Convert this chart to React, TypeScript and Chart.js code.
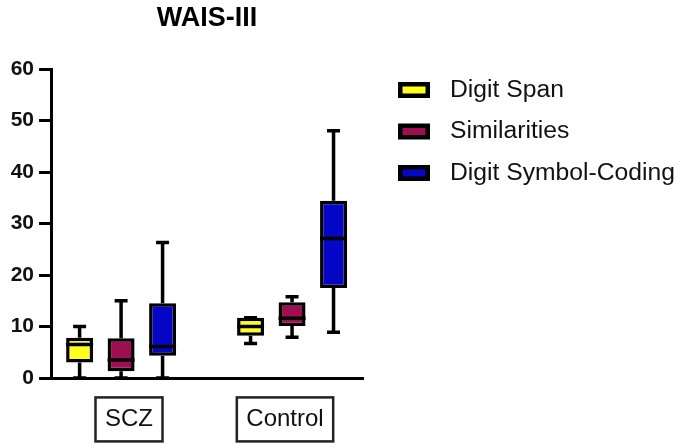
import React, { useEffect, useRef } from "react";
import { Chart, registerables } from "chart.js";

Chart.register(...registerables);

// ---- Data ----
const categories = ["SCZ", "Control"];
const seriesNames = ["Digit Span", "Similarities", "Digit Symbol-Coding"];
const seriesColors = ["#ffff1e", "#9e0e50", "#0606c6"];

const digitSpanMin = [0, 6.7];
const digitSpanQ1 = [3.0, 8.2];
const digitSpanMedian = [6.5, 10.0];
const digitSpanQ3 = [7.8, 11.7];
const digitSpanMax = [10.0, 11.7];

const similaritiesMin = [0, 7.9];
const similaritiesQ1 = [1.3, 10.1];
const similaritiesMedian = [3.5, 11.6];
const similaritiesQ3 = [7.7, 14.7];
const similaritiesMax = [15.0, 15.8];

const codingMin = [0, 8.9];
const codingQ1 = [4.3, 17.5];
const codingMedian = [6.1, 27.1];
const codingQ3 = [14.5, 34.4];
const codingMax = [26.3, 48.0];

const yTicks = [0, 10, 20, 30, 40, 50, 60];

const series = [
  { min: digitSpanMin, q1: digitSpanQ1, med: digitSpanMedian, q3: digitSpanQ3, max: digitSpanMax },
  { min: similaritiesMin, q1: similaritiesQ1, med: similaritiesMedian, q3: similaritiesQ3, max: similaritiesMax },
  { min: codingMin, q1: codingQ1, med: codingMedian, q3: codingQ3, max: codingMax },
];

const FONT = "'Liberation Sans', Arial, sans-serif";
const X_LABEL_SIZE = 24;
const X_LABEL_PAD = 27;

const whiskerPlugin = {
  id: "whiskers",
  afterDatasetsDraw(chart: any) {
    const ctx = chart.ctx;
    const y = chart.scales.y;
    ctx.save();
    ctx.strokeStyle = "#000";
    ctx.lineWidth = 3.5;
    chart.data.datasets.forEach((_ds: any, i: number) => {
      const meta = chart.getDatasetMeta(i);
      const s = series[i];
      meta.data.forEach((el: any, j: number) => {
        const x = el.x;
        const w = el.width;
        const cap = 13;
        const yMin = y.getPixelForValue(s.min[j]);
        const yQ1 = y.getPixelForValue(s.q1[j]);
        const yMed = y.getPixelForValue(s.med[j]);
        const yQ3 = y.getPixelForValue(s.q3[j]);
        const yMax = y.getPixelForValue(s.max[j]);
        ctx.beginPath();
        ctx.moveTo(x, yQ3);
        ctx.lineTo(x, yMax);
        ctx.moveTo(x - cap / 2, yMax);
        ctx.lineTo(x + cap / 2, yMax);
        ctx.moveTo(x, yQ1);
        ctx.lineTo(x, yMin);
        ctx.moveTo(x - cap / 2, yMin);
        ctx.lineTo(x + cap / 2, yMin);
        ctx.moveTo(x - w / 2, yMed);
        ctx.lineTo(x + w / 2, yMed);
        ctx.stroke();
      });
    });
    ctx.restore();
  },
};

const labelBoxPlugin = {
  id: "labelBoxes",
  afterDraw(chart: any) {
    const ctx = chart.ctx;
    const sc = chart.scales.x;
    const cy = sc.top + X_LABEL_PAD + (X_LABEL_SIZE * 1.2) / 2;
    ctx.save();
    ctx.font = `${X_LABEL_SIZE}px ${FONT}`;
    ctx.strokeStyle = "#222";
    ctx.lineWidth = 2.5;
    sc.ticks.forEach((t: any, i: number) => {
      const cx = sc.getPixelForTick(i);
      const label = String(sc.getLabelForValue(t.value));
      const w = ctx.measureText(label).width;
      const padX = 9.5;
      ctx.strokeRect(cx - w / 2 - padX, cy - 22, w + 2 * padX, 44);
    });
    ctx.restore();
  },
};

const legendPlugin = {
  id: "boxLegend",
  afterDraw(chart: any) {
    const ctx = chart.ctx;
    const x0 = chart.chartArea.right + 35;
    const y0 = 90;
    const gap = 41.5;
    const bw = 32;
    const bh = 16;
    const b = 4.5;
    ctx.save();
    chart.data.datasets.forEach((ds: any, i: number) => {
      const cy = y0 + i * gap;
      ctx.fillStyle = "#000";
      ctx.fillRect(x0, cy - bh / 2, bw, bh);
      ctx.fillStyle = ds.backgroundColor;
      ctx.fillRect(x0 + b, cy - bh / 2 + b, bw - 2 * b, bh - 2 * b);
      ctx.font = `24.7px ${FONT}`;
      ctx.textBaseline = "middle";
      ctx.textAlign = "left";
      ctx.fillStyle = "#111";
      ctx.fillText(ds.label, x0 + bw + 20, cy);
    });
    ctx.restore();
  },
};

export default function App() {
  const ref = useRef<HTMLCanvasElement | null>(null);

  useEffect(() => {
    document.body.style.margin = "0";
    if (!ref.current) return;
    const chart = new Chart(ref.current, {
      type: "bar",
      data: {
        labels: categories,
        datasets: seriesNames.map((name, i) => ({
          label: name,
          xAxisID: "xb",
          yAxisID: "y",
          data: categories.map((_c, j) => ({ x: j, y: [series[i].q1[j], series[i].q3[j]] })),
          backgroundColor: seriesColors[i],
          borderColor: "#000",
          borderWidth: 3.5,
          borderSkipped: false,
          categoryPercentage: 0.728,
          barPercentage: 0.65,
        })),
      } as any,
      options: {
        animation: false,
        responsive: true,
        maintainAspectRatio: false,
        events: [],
        layout: { padding: { left: 0, right: 322, top: 0, bottom: 0 } },
        plugins: {
          legend: { display: false },
          tooltip: { enabled: false },
          title: {
            display: true,
            text: "WAIS-III",
            fullSize: false,
            color: "#000",
            font: { family: FONT, size: 27, weight: "bold" },
            padding: { top: 2, bottom: 34.6 },
          },
        },
        scales: {
          x: {
            type: "category",
            position: "bottom",
            offset: true,
            grid: { display: false, drawTicks: false, tickLength: 0 },
            border: { display: true, color: "#000", width: 3 },
            ticks: {
              padding: X_LABEL_PAD,
              color: "#111",
              font: { family: FONT, size: X_LABEL_SIZE },
              maxRotation: 0,
            },
            afterFit: (s: any) => {
              s.height = 70;
            },
          },
          xb: {
            type: "linear",
            position: "bottom",
            display: false,
            offset: false,
            min: -0.41,
            max: 1.415,
            afterBuildTicks: (s: any) => {
              s.ticks = categories.map((_c, i) => ({ value: i }));
            },
          },
          y: {
            type: "linear",
            min: yTicks[0],
            max: yTicks[yTicks.length - 1],
            afterBuildTicks: (s: any) => {
              s.ticks = yTicks.map((v) => ({ value: v }));
            },
            grid: {
              drawOnChartArea: false,
              drawTicks: true,
              tickLength: 12,
              tickWidth: 3,
              color: "#000",
            },
            border: { display: true, color: "#000", width: 3 },
            ticks: {
              padding: 5,
              color: "#111",
              font: { family: FONT, size: 21, weight: "bold" },
            },
            afterFit: (s: any) => {
              s.width = 51;
            },
          },
        },
      } as any,
      plugins: [whiskerPlugin, labelBoxPlugin, legendPlugin],
    });
    return () => chart.destroy();
  }, []);

  return (
    <div style={{ position: "relative", width: 685, height: 448 }}>
      <canvas ref={ref} />
    </div>
  );
}
